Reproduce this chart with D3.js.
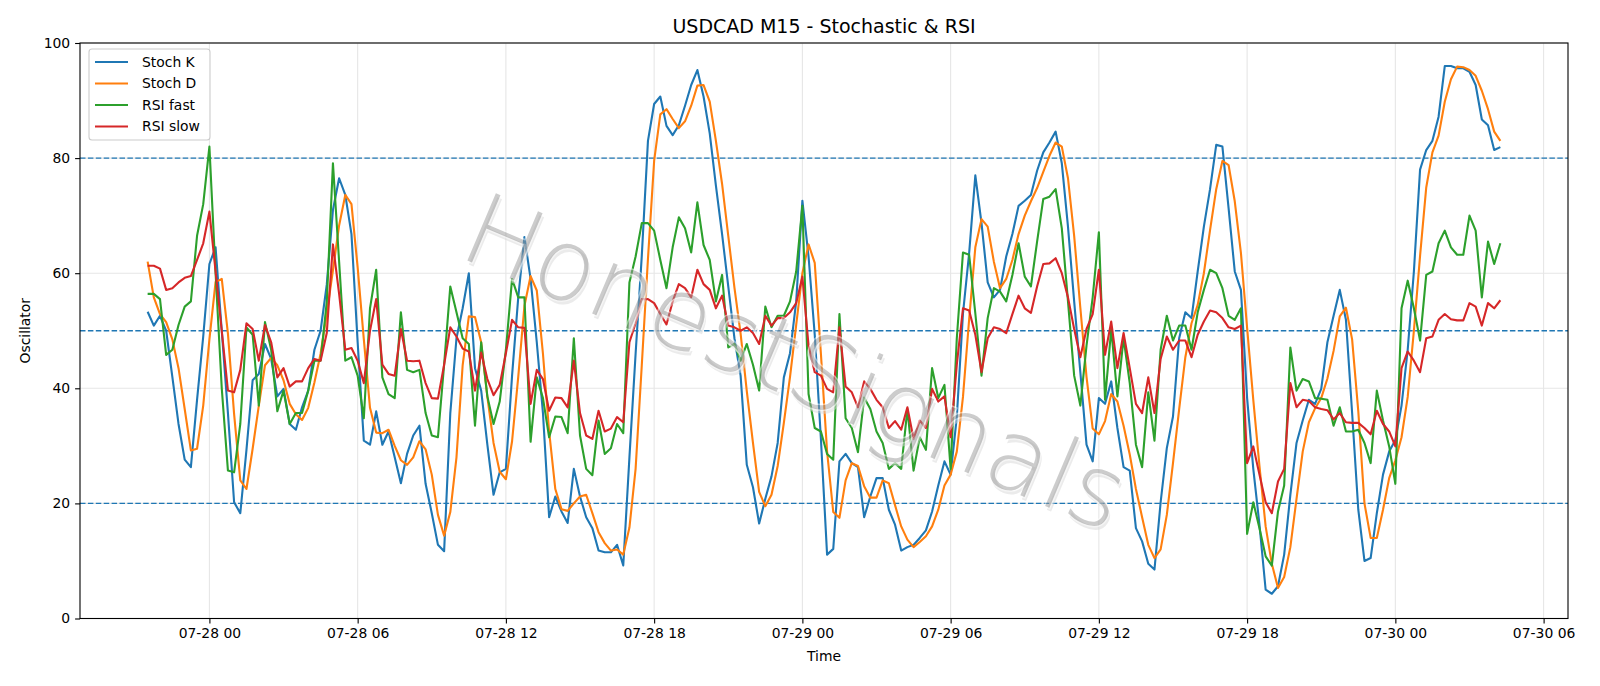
<!DOCTYPE html>
<html>
<head lang="en">
    <meta charset="UTF-8">
    <title>USDCAD M15 - Stochastic & RSI</title>
    <script src="https://cdn.jsdelivr.net/npm/d3@7"></script>
    <style>
        body{margin:0;background:#fff;}
        text{font-family:"DejaVu Sans",sans-serif;fill:#000;}
    </style>
</head>
<body>
<script>
    // M15 bars, first bar time (UTC)
    var startTime="2025-07-27T21:30:00Z";
    var stepMinutes=15;

    var stochK=[53.3,50.9,52.6,50,42,33.8,27.6,26.3,38,49,61.6,64.5,50,35.7,20.2,18.3,29.3,41.4,42.5,47.7,
        45.1,38.6,39.9,33.8,32.8,36.7,39.6,46.7,50,58,71,76.5,73.6,66.8,48,30.9,30.2,36,30.2,32.5,
        28,23.5,28.6,31.8,33.5,23.4,18.3,12.8,11.7,35.7,48.7,53.9,60,43.5,39.6,30.2,21.5,25.4,26,42.2,
        55.8,66.3,59,48,35.7,17.6,21.2,18.6,16.6,26,21.2,17.6,15.7,11.8,11.5,11.5,12.8,9.2,28,46,
        63,83,89.4,90.7,85.6,84,85.7,89.1,92.7,95.3,90.7,84.3,75.2,66.8,57.7,48.7,42.2,26.7,22.8,16.5,
        20.8,24.7,30.5,41.9,46.1,55.1,72.6,62.9,49.3,31.2,11.1,12.1,27.3,28.6,27,26.3,17.6,21.2,24.4,24.4,
        18.9,16.3,11.8,12.4,12.8,14,15.3,18.6,23.1,27.3,25,35,53,63.5,77,68.7,58.4,55.8,57.1,62.9,
        66.8,71.7,72.6,73.6,77.8,81,82.7,84.6,79.1,68.1,55.1,42.8,30.2,27.3,38.3,37.3,41.2,33.1,26.3,25.7,
        15.7,13.4,9.5,8.5,20.2,29.6,35.1,48.7,53.2,52.2,60.3,68.1,74.6,82.3,82,71.3,60.3,57.1,38.3,26,
        16.3,5,4.3,5.6,11.1,21.5,30.5,34.4,38,37.3,39.9,48,52.6,57.1,51.9,35.7,18.9,10,10.5,18.3,
        25,29,31,37,46.7,60.3,78,81.4,83,87.2,96,96,95.6,95.6,95,92.7,86.7,85.7,81.4,81.9];

    var stochD=[62,55.8,52.9,51.5,48.5,43.5,36.4,29.2,29.5,37,48.5,58.5,59,49.5,35.5,24,22.5,29.5,37,44,
        45.3,44,41.4,37.3,35.5,34.5,36.6,41,46,53,60.5,68.3,73.6,72,61,48.5,36.6,32.3,32.2,32.8,
        30,27.5,26.7,28,30.8,29.4,25,18,14.4,18.5,28,44,52.5,52.4,48,38.5,30.5,25.5,24.2,30.8,
        42,54.3,59.5,57,46,32.5,22.5,19,18.7,20,21.2,21.5,18.3,15,13.1,11.8,12,11.1,15.8,26,
        44,62.5,79.5,87.6,88.5,86.8,85.2,86.4,89.1,92.6,92.7,89.8,83,75.5,66.5,57.5,49.5,39.5,30.5,22,
        19.5,21.5,26.5,34,42,51,60,65,61.8,46,29,18.5,17.5,24,27,26.5,23,21,21,24,
        23.5,19.7,16,13.7,12.4,13.3,14.3,16,18.9,23.1,25,29,38.5,52,64.5,69.4,68.1,62,57.4,59,
        62.3,66.8,70,72.5,74.8,77.6,80.4,82.7,82,76.5,66.5,54,42,33,32,34.3,39,37.7,33.5,28.5,
        22.5,17.6,12.8,10.5,12,18,27,36.4,45.4,51.3,54.5,60,67.5,74.6,79.5,78.8,72.5,63.5,50.5,38,
        26.5,16,9.5,5.3,7.2,12.4,20.8,29,34.1,36.5,38.3,41.7,46.5,52.5,54,48.5,36,20,14,14,
        18.9,24.4,27.5,31.5,38.5,50,63,74.9,81,83.9,89.8,93.7,95.9,95.8,95.3,94.3,91.7,88.5,84.6,83];

    var rsiFast=[56.4,56.4,55.5,45.8,46.7,51,54.2,55.1,66.5,72,82,60,40,25.7,25.4,33.8,50.6,49.3,37,51.5,
        46.7,36,39.6,33.8,35.7,35.7,39.6,44.8,44.8,55,79.1,62,44.8,45.4,42.2,34.8,53.9,60.6,41.9,39,
        38.3,53.2,43.2,42.8,43.2,35.7,31.8,31.5,44.1,57.7,53.2,48.7,47.7,33.5,48,38.6,33.8,37.7,46.7,59,
        55.8,55.8,30.7,41.9,38.3,31.5,35.1,35,32.2,48.7,31.8,26,24.9,34.4,28.6,29.6,33.8,32.2,58.4,62.9,
        68.7,68.7,67.4,62.3,57.4,64.5,69.7,67.8,63.6,72.3,64.9,62.3,55.1,59.7,47.1,47.7,44.8,47.7,44.1,39.6,
        54.2,50.6,52.6,52.6,55.1,60.3,71.7,39,33.1,32.5,28.6,27.6,52.9,34.8,33.1,28.9,38.4,36.4,32.5,30.5,
        26,27,26,36.4,25.7,31.5,29.3,43.5,38.3,40.6,26,48.7,63.6,63.2,53,42.2,52.2,57.4,56.8,55.1,
        59.7,65.2,59.4,57.7,65.5,72.9,73.3,74.6,67.8,55.1,42.2,37,47.4,55.8,67.1,38,50.3,38.6,48.7,40.9,
        30.2,26.3,39.3,30.9,46.7,52.6,48.3,50.9,50.9,46.7,53.2,57.1,60.6,60,57.4,52.6,51.9,53.9,14.7,20.2,
        15.7,10.8,9.2,18.6,23.1,47.1,39.6,41.6,41.2,38.3,38.2,38,33.5,36.7,32.5,32.5,32.8,30.5,27,39.6,
        34.4,29.9,23.4,53.9,58.7,53.9,48.3,59.7,60.3,65.2,67.4,64.5,63.2,63.2,70,67.4,55.8,65.5,61.6,65.2];

    var rsiSlow=[61.3,61.3,60.8,57.1,57.4,58.4,59.2,59.5,62.3,65.2,70.7,60.3,50,39.6,39.3,43.2,51.3,50.3,44.8,51,
        48,41.9,43.5,40.3,41.2,41.2,43.5,45.1,44.8,49.6,65,56.4,46.7,47,44.8,40.9,50,55.5,44.1,42.5,
        42.2,50.3,44.8,44.7,44.8,40.9,38.3,38.2,44.1,50.6,49,46.9,46.4,39.6,46.2,41.6,38.8,40.6,46.1,51.9,
        50.6,50.5,37.3,43.2,41.6,36.1,38.4,38.3,36.7,44.8,35.7,31.8,31.2,36.1,32.5,33,35,34.1,48,51.3,
        55.5,55.5,54.8,52.9,51.1,55.1,58.1,57.4,55.8,60.6,58.1,57.1,53.9,56.1,50.9,50.6,50,50.6,49.6,47.7,
        52.6,50.9,52.2,52.2,53.2,54.8,59.4,47.4,42.8,42.2,39.9,39.3,50.6,40.3,39.3,36.7,41.2,39.9,38,36.7,
        33.1,34.3,32.8,36.7,31.2,34.4,33.1,39.9,37.7,38.6,31.5,44.1,53.9,53.5,49.3,42.8,48.7,50.6,50.3,49.6,
        52.9,56.1,53.9,53.1,57.7,61.6,61.7,62.6,60,55.8,50.3,45.4,50.3,52.9,60.6,45.8,51.6,43.5,49.6,43.5,
        37.3,35.7,41.9,35.7,45.1,49,46.7,48.3,48.3,45.4,49.3,51.6,53.5,53.2,52.2,50.6,50.3,50.9,27,29.9,
        25,20.2,18.3,23.8,26,40.9,36.7,38,37.8,36.7,36.4,36.2,34.6,35.7,34.1,34,34,33.1,32,36.1,
        33.8,32.5,29.9,43.5,46.4,44.8,42.8,48.7,49,51.9,52.9,52,51.8,51.8,54.8,54.2,50.9,54.8,53.9,55.3];

    var seriesNames=["Stoch K","Stoch D","RSI fast","RSI slow"];
    var seriesColors=["#1f77b4","#ff7f0e","#2ca02c","#d62728"];
    var levels=[20,50,80];
    var yTicks=[0,20,40,60,80,100];

    var width=1600,height=686;
    var margin={left:80,right:32,top:43,bottom:67.5};

    var t0=d3.utcParse("%Y-%m-%dT%H:%M:%SZ")(startTime);
    var times=stochK.map(function(d,i){return d3.utcMinute.offset(t0,i*stepMinutes);});
    var tFirst=times[0],tLast=times[times.length-1];
    var pad=(tLast-tFirst)*0.05;

    var _x=d3.scaleUtc()
            .domain([new Date(+tFirst-pad),new Date(+tLast+pad)])
            .range([margin.left,width-margin.right]);
    var _y=d3.scaleLinear()
            .domain([0,100])
            .range([height-margin.bottom,margin.top]);

    var _svg=d3.select("body")
            .append("svg")
            .attr("width",width)
            .attr("height",height);

    var xTickVals=_x.ticks(d3.utcHour.every(6));

    //grid
    _svg.append("g")
            .selectAll("line")
            .data(xTickVals)
            .enter()
            .append("line")
            .attr("x1",function(d){return _x(d);})
            .attr("x2",function(d){return _x(d);})
            .attr("y1",_y(0))
            .attr("y2",_y(100))
            .style("stroke","#e6e6e6")
            .style("stroke-width",1.1);
    _svg.append("g")
            .selectAll("line")
            .data(yTicks)
            .enter()
            .append("line")
            .attr("x1",margin.left)
            .attr("x2",width-margin.right)
            .attr("y1",function(d){return _y(d);})
            .attr("y2",function(d){return _y(d);})
            .style("stroke","#e6e6e6")
            .style("stroke-width",1.1);

    //20 / 50 / 80 levels
    _svg.append("g")
            .selectAll("line")
            .data(levels)
            .enter()
            .append("line")
            .attr("x1",margin.left)
            .attr("x2",width-margin.right)
            .attr("y1",function(d){return _y(d);})
            .attr("y2",function(d){return _y(d);})
            .style("stroke","#1f77b4")
            .style("stroke-width",1.4)
            .style("stroke-dasharray","5.5,2.4");

    var allSeries=[stochK,stochD,rsiFast,rsiSlow];
    var _line=d3.line()
            .x(function(d,i){return _x(times[i]);})
            .y(function(d){return _y(d);});

    _svg.append("g")
            .selectAll("path")
            .data(allSeries)
            .enter()
            .append("path")
            .attr("d",function(d){return _line(d);})
            .style("fill","none")
            .style("stroke",function(d,i){return seriesColors[i];})
            .style("stroke-width",2.1)
            .style("stroke-linejoin","round");

    //watermark
    var _wm=_svg.append("g")
            .attr("transform","translate(796,362) rotate(23)");
    _wm.append("text")
            .attr("x",3).attr("y",3)
            .attr("text-anchor","middle")
            .attr("dy","0.35em")
            .style("font-size","100px")
            .style("font-weight","200")
            .style("fill","#d8d8d8")
            .style("opacity",0.5)
            .text("HonestSignals");
    _wm.append("text")
            .attr("text-anchor","middle")
            .attr("dy","0.35em")
            .style("font-size","100px")
            .style("font-weight","200")
            .style("fill","#9a9a9a")
            .style("stroke","#ffffff")
            .style("stroke-width",3)
            .style("paint-order","stroke")
            .style("opacity",0.5)
            .text("HonestSignals");

    //axes
    var _xAxis=d3.axisBottom(_x)
            .tickValues(xTickVals)
            .tickSize(4.9)
            .tickPadding(4.9)
            .tickFormat(d3.utcFormat("%m-%d %H"));
    var _yAxis=d3.axisLeft(_y)
            .tickValues(yTicks)
            .tickSize(4.9)
            .tickPadding(4.9);
    var gx=_svg.append("g")
            .attr("transform","translate(0,"+_y(0)+")")
            .call(_xAxis);
    var gy=_svg.append("g")
            .attr("transform","translate("+margin.left+",0)")
            .call(_yAxis);
    [gx,gy].forEach(function(g){
        g.select(".domain").remove();
        g.selectAll("line").style("stroke","#000").style("stroke-width",1.1);
        g.selectAll("text").style("font-size","13.9px").style("font-family","DejaVu Sans").style("fill","#000");
    });

    //frame
    _svg.append("rect")
            .attr("x",margin.left)
            .attr("y",margin.top)
            .attr("width",width-margin.left-margin.right)
            .attr("height",_y(0)-margin.top)
            .style("fill","none")
            .style("stroke","#000")
            .style("stroke-width",1.1);

    //legend
    var _lg=_svg.append("g");
    _lg.append("rect")
            .attr("x",89).attr("y",49)
            .attr("width",121).attr("height",91)
            .attr("rx",3)
            .style("fill","#fff")
            .style("fill-opacity",0.8)
            .style("stroke","#cccccc")
            .style("stroke-width",1.1);
    var rows=_lg.selectAll("g.row")
            .data(seriesNames)
            .enter()
            .append("g")
            .attr("transform",function(d,i){return "translate(0,"+(62+i*21.5)+")";});
    rows.append("line")
            .attr("x1",95).attr("x2",128)
            .style("stroke",function(d,i){return seriesColors[i];})
            .style("stroke-width",2.1);
    rows.append("text")
            .attr("x",142)
            .attr("dy","0.35em")
            .style("font-size","13.9px")
            .text(function(d){return d;});

    //title and labels
    _svg.append("text")
            .attr("x",(margin.left+width-margin.right)/2)
            .attr("y",33)
            .attr("text-anchor","middle")
            .style("font-size","19px")
            .text("USDCAD M15 - Stochastic & RSI");
    _svg.append("text")
            .attr("x",(margin.left+width-margin.right)/2)
            .attr("y",661)
            .attr("text-anchor","middle")
            .style("font-size","13.9px")
            .text("Time");
    _svg.append("text")
            .attr("transform","translate(30,"+((margin.top+_y(0))/2)+") rotate(-90)")
            .attr("text-anchor","middle")
            .style("font-size","13.9px")
            .text("Oscillator");
</script>
</body>
</html>
